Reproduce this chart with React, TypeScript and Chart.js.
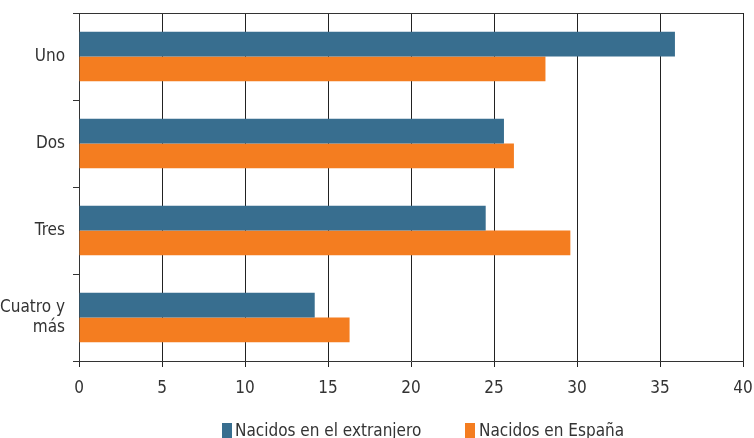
import React, { useEffect, useRef } from "react";
import { Chart, registerables } from "chart.js";

Chart.register(...registerables);

const categories: (string | string[])[] = ["Uno", "Dos", "Tres", ["Cuatro y", "más"]];
const seriesNames = ["Nacidos en el extranjero", "Nacidos en España"];
const foreignBorn = [35.9, 25.6, 24.5, 14.2];
const spainBorn = [28.1, 26.2, 29.6, 16.3];
const xMin = 0;
const xMax = 40;
const xStep = 5;

const BLUE = "#386e8f";
const ORANGE = "#f47d20";
const FONT = "'DejaVu Sans Condensed', 'Liberation Sans Narrow', sans-serif";

const topLine = {
  id: "topLine",
  afterDraw(chart: any) {
    const { ctx, chartArea } = chart;
    ctx.save();
    ctx.strokeStyle = "#333";
    ctx.lineWidth = 1;
    ctx.beginPath();
    ctx.moveTo(chartArea.left - 6, Math.round(chartArea.top) + 0.5);
    ctx.lineTo(chartArea.right, Math.round(chartArea.top) + 0.5);
    ctx.stroke();
    ctx.restore();
  },
};

export default function App() {
  const ref = useRef<HTMLCanvasElement>(null);

  useEffect(() => {
    if (!ref.current) return;
    const chart = new Chart(ref.current, {
      type: "bar",
      data: {
        labels: categories as any,
        datasets: [
          {
            label: seriesNames[0],
            data: foreignBorn,
            backgroundColor: BLUE,
            categoryPercentage: 0.57,
            barPercentage: 1.0,
          },
          {
            label: seriesNames[1],
            data: spainBorn,
            backgroundColor: ORANGE,
            categoryPercentage: 0.57,
            barPercentage: 1.0,
          },
        ],
      },
      options: {
        indexAxis: "y",
        animation: false,
        responsive: false,
        maintainAspectRatio: false,
        layout: { padding: { left: 0, right: 11, top: 13, bottom: 0 } },
        plugins: {
          legend: { display: false },
          tooltip: { enabled: false },
        },
        scales: {
          x: {
            min: xMin,
            max: xMax,
            ticks: {
              stepSize: xStep,
              color: "#333",
              padding: 11,
              font: { family: FONT, size: 17 },
            },
            grid: { color: "#222", lineWidth: 1, tickLength: 6, drawTicks: true },
            border: { color: "#333", width: 1 },
            afterFit(scale: any) {
              scale.height = 77;
              scale.paddingLeft = 0;
              scale.paddingRight = 0;
            },
          },
          y: {
            type: "category",
            offset: true,
            ticks: {
              color: "#333",
              padding: 8,
              font: { family: FONT, size: 17, lineHeight: 1.2 },
            },
            grid: { drawOnChartArea: false, offset: true, color: "#333", tickLength: 6 },
            border: { color: "#333", width: 1 },
            afterFit(scale: any) {
              scale.width = 79;
              scale.paddingTop = 0;
              scale.paddingBottom = 0;
            },
          },
        },
      },
      plugins: [topLine],
    });
    return () => chart.destroy();
  }, []);

  const legendText: React.CSSProperties = {
    position: "absolute",
    top: 420,
    fontFamily: FONT,
    fontSize: 17,
    color: "#333",
    whiteSpace: "nowrap",
  };

  return (
    <div style={{ position: "fixed", left: 0, top: 0, width: 754, height: 438, overflow: "hidden", background: "#fff" }}>
      <canvas ref={ref} width={754} height={438} style={{ position: "absolute", left: 0, top: 0, width: 754, height: 438 }} />
      <div style={{ position: "absolute", left: 222, top: 423, width: 10, height: 15, background: BLUE }} />
      <div style={{ ...legendText, left: 235 }}>{seriesNames[0]}</div>
      <div style={{ position: "absolute", left: 465, top: 423, width: 10, height: 15, background: ORANGE }} />
      <div style={{ ...legendText, left: 479 }}>{seriesNames[1]}</div>
    </div>
  );
}
